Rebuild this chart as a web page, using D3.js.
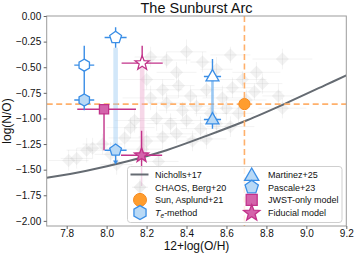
<!DOCTYPE html>
<html>
<head>
<meta charset="utf-8">
<script src="https://cdn.jsdelivr.net/npm/d3@7"></script>
<style>
  body { margin: 0; background: #fff; }
  text { font-family: "Liberation Sans", Arial, sans-serif; fill: #111; }
</style>
</head>
<body>
<div id="chart"></div>
<script>
// CHAOS, Berg+20 cloud (12+log(O/H), log(N/O), errors)
var chaosX = [8.22, 8.30, 8.40, 8.48, 8.62, 8.75, 8.88, 8.55, 8.35, 8.20,
  8.28, 8.36, 8.42, 8.50, 8.58, 8.63, 8.68, 8.78, 8.74, 8.86, 8.88, 8.45, 8.38, 8.52, 8.60, 8.30, 8.22, 8.70, 8.66,
  8.14, 8.12, 8.09, 8.25, 8.32, 8.40, 8.47, 8.55, 8.62, 8.35, 8.28, 8.20, 8.43, 8.18, 7.93, 7.90, 7.85, 7.81, 7.98,
  8.02, 8.26, 8.05, 8.50, 8.18];
var chaosY = [-0.40, -0.43, -0.35, -0.45, -0.38, -0.55, -0.42, -0.52, -0.55, -0.62,
  -0.72, -0.68, -0.78, -0.72, -0.80, -0.70, -0.62, -0.66, -0.74, -0.78, -0.90, -0.88, -0.92, -0.95, -0.90, -0.85, -0.80, -0.82, -0.95,
  -1.02, -1.09, -1.19, -1.00, -1.05, -1.02, -1.10, -1.05, -1.08, -1.15, -1.18, -1.22, -1.22, -1.30, -1.29, -1.31, -1.39, -1.41, -1.25,
  -1.35, -1.42, -1.45, -1.20, -1.57];
var chaosXerr = [0.08, 0.12, 0.10, 0.06, 0.10, 0.12, 0.15, 0.08, 0.10, 0.14,
  0.10, 0.08, 0.12, 0.08, 0.10, 0.10, 0.12, 0.10, 0.14, 0.08, 0.12, 0.10, 0.12, 0.08, 0.10, 0.10, 0.14, 0.10, 0.08,
  0.10, 0.12, 0.08, 0.10, 0.12, 0.10, 0.10, 0.08, 0.12, 0.10, 0.12, 0.10, 0.08, 0.10, 0.08, 0.10, 0.08, 0.10, 0.10,
  0.08, 0.10, 0.08, 0.10, 0.06];
var chaosYerr = [0.10, 0.08, 0.12, 0.10, 0.08, 0.10, 0.10, 0.12, 0.10, 0.10,
  0.10, 0.12, 0.10, 0.08, 0.12, 0.10, 0.08, 0.10, 0.08, 0.12, 0.10, 0.10, 0.08, 0.10, 0.12, 0.10, 0.12, 0.10, 0.10,
  0.12, 0.10, 0.10, 0.12, 0.10, 0.08, 0.12, 0.10, 0.10, 0.10, 0.12, 0.10, 0.10, 0.12, 0.10, 0.12, 0.10, 0.10, 0.10,
  0.12, 0.10, 0.10, 0.10, 0.08];

// Nicholls+17 relation
var nichX = [7.7, 7.9, 8.1, 8.3, 8.5, 8.7, 8.9, 9.1, 9.2];
var nichY = [-1.58, -1.51, -1.42, -1.31, -1.17, -1.02, -0.85, -0.67, -0.58];

// Sun, Asplund+21
var sunX = 8.69, sunY = -0.86;

// T_e-method (hexagons): open, filled
var teX = [7.888, 7.888];
var teY = [-0.48, -0.82];
var teXerr = [0.05, 0.05];
var teYlo = [-0.82, -0.92];
var teYhi = [-0.29, -0.82];

// Pascale+23 (pentagons): open, filled (upper limit)
var pasX = [8.045, 8.045];
var pasY = [-0.21, -1.31];
var pasXerr = [0.055, 0.055];
var pasYlo = [-0.31, -1.43];
var pasYhi = [-0.11, -1.31];

// Martinez+25 (triangles): open, filled
var marX = [8.53, 8.53];
var marY = [-0.59, -1.01];
var marXerr = [0.043, 0.043];
var marYlo = [-0.59, -1.10];
var marYhi = [-0.42, -1.01];

// JWST-only model (square)
var jwX = 7.987, jwY = -0.91;
var jwXlo = 7.853, jwXhi = 8.147;
var jwYlo = -1.31, jwYhi = -0.91;

// Fiducial model (stars): open, filled
var fidX = [8.178, 8.175];
var fidY = [-0.46, -1.36];
var fidXerr = [0.103, 0.103];
var fidYlo = [-0.46, -1.66];
var fidYhi = [-0.29, -1.12];

var xTicks = [7.8, 8.0, 8.2, 8.4, 8.6, 8.8, 9.0, 9.2];
var yTicks = [0, -0.25, -0.5, -0.75, -1.0, -1.25, -1.5, -1.75, -2.0];

var W = 357, H = 255;
var blue = "#3a8ee6", paleBlue = "#b8d9f6", pink = "#c2328a", pinkFill = "#d463ab";
var orange = "#ff9d2e";

var svg = d3.select("#chart").append("svg").attr("width", W).attr("height", H);

var x = d3.scaleLinear().domain([7.7, 9.2]).range([46.7, 346.3]);
var y = d3.scaleLinear().domain([-2.05, 0]).range([226, 16]);

// clip region
svg.append("clipPath").attr("id", "clip").append("rect")
  .attr("x", x(7.7)).attr("y", y(0)).attr("width", x(9.2) - x(7.7)).attr("height", y(-2.05) - y(0));
var plot = svg.append("g").attr("clip-path", "url(#clip)");

// polygon helper (vertex up)
function poly(n, r) {
  var pts = [];
  for (var i = 0; i < n; i++) {
    var a = -Math.PI / 2 + i * 2 * Math.PI / n;
    pts.push([r * Math.cos(a), r * Math.sin(a)]);
  }
  return "M" + pts.map(function(p){ return p[0].toFixed(2) + "," + p[1].toFixed(2); }).join("L") + "Z";
}
function star(r) {
  var pts = [];
  for (var i = 0; i < 10; i++) {
    var a = -Math.PI / 2 + i * Math.PI / 5;
    var rr = i % 2 == 0 ? r : r * 0.42;
    pts.push([rr * Math.cos(a), rr * Math.sin(a)]);
  }
  return "M" + pts.map(function(p){ return p[0].toFixed(2) + "," + p[1].toFixed(2); }).join("L") + "Z";
}
function tri(r) {
  return "M0," + (-r) + "L" + (r * 0.95) + "," + (r * 0.65) + "L" + (-r * 0.95) + "," + (r * 0.65) + "Z";
}
function diamond(r) {
  return "M0," + (-r) + "L" + r + ",0L0," + r + "L" + (-r) + ",0Z";
}

// CHAOS cloud
var chaos = chaosX.map(function(d, i){ return {x: d, y: chaosY[i], xe: chaosXerr[i], ye: chaosYerr[i]}; });
var cg = plot.append("g");
chaos.forEach(function(d){
  cg.append("line").attr("x1", x(d.x - d.xe)).attr("x2", x(d.x + d.xe))
    .attr("y1", y(d.y)).attr("y2", y(d.y))
    .attr("stroke", "#9a9a9a").attr("stroke-opacity", 0.12).attr("stroke-width", 1);
  cg.append("line").attr("x1", x(d.x)).attr("x2", x(d.x))
    .attr("y1", y(d.y - d.ye)).attr("y2", y(d.y + d.ye))
    .attr("stroke", "#9a9a9a").attr("stroke-opacity", 0.12).attr("stroke-width", 1);
  cg.append("path").attr("d", diamond(6.5))
    .attr("transform", "translate(" + x(d.x) + "," + y(d.y) + ")")
    .attr("fill", "#8a8a8a").attr("fill-opacity", 0.11);
});

// Nicholls curve
var nich = nichX.map(function(d, i){ return [d, nichY[i]]; });
plot.append("path")
  .attr("d", d3.line().x(function(d){ return x(d[0]); }).y(function(d){ return y(d[1]); })
    .curve(d3.curveCatmullRom)(nich))
  .attr("fill", "none").attr("stroke", "#656b72").attr("stroke-width", 2);

// solar dashed lines
plot.append("line").attr("x1", x(sunX)).attr("x2", x(sunX)).attr("y1", y(0)).attr("y2", y(-2.05))
  .attr("stroke", "#ffb06b").attr("stroke-width", 1.6).attr("stroke-dasharray", "6,3.5");
plot.append("line").attr("x1", x(7.7)).attr("x2", x(9.2)).attr("y1", y(sunY)).attr("y2", y(sunY))
  .attr("stroke", "#ffb06b").attr("stroke-width", 1.6).attr("stroke-dasharray", "6,3.5");

// shaded bands between open/filled pairs
function band(xc, y1, y2, w, col, op) {
  plot.append("rect").attr("x", x(xc) - w / 2).attr("width", w)
    .attr("y", y(y1)).attr("height", y(y2) - y(y1))
    .attr("fill", col).attr("fill-opacity", op);
}
band(pasX[0], pasYlo[0], pasY[1], 4.6, "#9cc9f2", 0.45);
band(fidX[0], fidY[0], fidY[1], 4.6, "#eaa6cd", 0.45);
band(marX[0], marY[0], marY[1], 2.6, "#6fb0ee", 0.7);

function errbar(xc, yc, xlo, xhi, ylo, yhi, col) {
  plot.append("line").attr("x1", x(xlo)).attr("x2", x(xhi)).attr("y1", y(yc)).attr("y2", y(yc))
    .attr("stroke", col).attr("stroke-width", 1.4);
  if (ylo != yhi)
    plot.append("line").attr("x1", x(xc)).attr("x2", x(xc)).attr("y1", y(ylo)).attr("y2", y(yhi))
      .attr("stroke", col).attr("stroke-width", 1.4);
}
function marker(path, xc, yc, fill, stroke) {
  plot.append("path").attr("d", path)
    .attr("transform", "translate(" + x(xc) + "," + y(yc) + ")")
    .attr("fill", fill).attr("stroke", stroke).attr("stroke-width", 1.3);
}

// error bars
errbar(jwX, jwY, jwXlo, jwXhi, jwYlo, jwYhi, pink);
teX.forEach(function(d, i){ errbar(d, teY[i], d - teXerr[i], d + teXerr[i], teYlo[i], teYhi[i], blue); });
pasX.forEach(function(d, i){ errbar(d, pasY[i], d - pasXerr[i], d + pasXerr[i], pasYlo[i], pasYhi[i], blue); });
marX.forEach(function(d, i){ errbar(d, marY[i], d - marXerr[i], d + marXerr[i], marYlo[i], marYhi[i], blue); });
fidX.forEach(function(d, i){ errbar(d, fidY[i], d - fidXerr[i], d + fidXerr[i], fidYlo[i], fidYhi[i], pink); });

// upper-limit arrowhead on filled pentagon
plot.append("path")
  .attr("d", "M-2.6,0L2.6,0L0,4Z")
  .attr("transform", "translate(" + x(pasX[1]) + "," + (y(pasYlo[1]) - 2) + ")")
  .attr("fill", blue);

// markers
marker(poly(6, 6), teX[0], teY[0], "#fff", blue);
marker(poly(6, 6), teX[1], teY[1], paleBlue, blue);
marker(poly(5, 6.2), pasX[0], pasY[0], "#fff", blue);
marker(poly(5, 6.2), pasX[1], pasY[1], paleBlue, blue);
marker(tri(6.8), marX[0], marY[0], "#fff", blue);
marker(tri(6.8), marX[1], marY[1], paleBlue, blue);
marker("M-4.6,-4.6H4.6V4.6H-4.6Z", jwX, jwY, pinkFill, pink);
marker(star(7.5), fidX[0], fidY[0], "#fff", pink);
marker(star(7.5), fidX[1], fidY[1], pinkFill, pink);
svg.append("circle").attr("cx", x(sunX)).attr("cy", y(sunY)).attr("r", 5.6)
  .attr("fill", orange).attr("stroke", "#f58a1f").attr("stroke-width", 1);

// frame
svg.append("rect").attr("x", x(7.7)).attr("y", y(0)).attr("width", x(9.2) - x(7.7)).attr("height", y(-2.05) - y(0))
  .attr("fill", "none").attr("stroke", "#9c9c9c").attr("stroke-width", 1);

// axes
var xAxis = svg.append("g").attr("transform", "translate(0," + y(-2.05) + ")")
  .call(d3.axisBottom(x).tickValues(xTicks).tickSize(3).tickPadding(0.5).tickFormat(d3.format(".1f")));
var yAxis = svg.append("g").attr("transform", "translate(" + x(7.7) + ",0)")
  .call(d3.axisLeft(y).tickValues(yTicks).tickSize(3).tickPadding(2.5).tickFormat(function(d){ return d3.format(".2f")(d).replace("-", "\u2212"); }));
[xAxis, yAxis].forEach(function(a){
  a.select(".domain").remove();
  a.selectAll(".tick line").attr("stroke", "#666");
  a.selectAll(".tick text").attr("font-size", 10).attr("fill", "#111")
    .style("font-family", "'Liberation Sans', Arial, sans-serif");
});

// labels
svg.append("text").attr("x", (x(7.7) + x(9.2)) / 2).attr("y", 13).attr("text-anchor", "middle")
  .attr("font-size", 14.5).text("The Sunburst Arc");
svg.append("text").attr("x", (x(7.7) + x(9.2)) / 2).attr("y", 250).attr("text-anchor", "middle")
  .attr("font-size", 12).text("12+log(O/H)");
svg.append("text").attr("transform", "translate(11," + ((y(0) + y(-2.05)) / 2) + ") rotate(-90)")
  .attr("text-anchor", "middle").attr("font-size", 12).text("log(N/O)");

// legend
var lg = svg.append("g");
lg.append("rect").attr("x", 127.5).attr("y", 166.5).attr("width", 214.5).attr("height", 56).attr("rx", 3)
  .attr("fill", "#fff").attr("fill-opacity", 0.8).attr("stroke", "#cfcfcf").attr("stroke-width", 1);
var rows = [174.5, 187.2, 199.9, 212.6];
var c1m = 140, c1t = 155, c2m = 251.7, c2t = 268;
lg.append("line").attr("x1", 130.5).attr("x2", 148.5).attr("y1", rows[0]).attr("y2", rows[0])
  .attr("stroke", "#656b72").attr("stroke-width", 2);
lg.append("path").attr("d", diamond(6.5)).attr("transform", "translate(" + c1m + "," + rows[1] + ")")
  .attr("fill", "#8a8a8a").attr("fill-opacity", 0.14);
lg.append("line").attr("x1", c1m - 8).attr("x2", c1m + 8).attr("y1", rows[1]).attr("y2", rows[1])
  .attr("stroke", "#9a9a9a").attr("stroke-opacity", 0.15);
lg.append("line").attr("x1", c1m).attr("x2", c1m).attr("y1", rows[1] - 8).attr("y2", rows[1] + 8)
  .attr("stroke", "#9a9a9a").attr("stroke-opacity", 0.15);
lg.append("circle").attr("cx", c1m).attr("cy", rows[2]).attr("r", 6.5)
  .attr("fill", orange).attr("stroke", "#f58a1f").attr("stroke-width", 1);
lg.append("path").attr("d", poly(6, 7)).attr("transform", "translate(" + c1m + "," + rows[3] + ")")
  .attr("fill", paleBlue).attr("stroke", blue).attr("stroke-width", 1.3);
lg.append("path").attr("d", tri(7.5)).attr("transform", "translate(" + c2m + "," + (rows[0] + 1) + ")")
  .attr("fill", paleBlue).attr("stroke", blue).attr("stroke-width", 1.3);
lg.append("path").attr("d", poly(5, 7)).attr("transform", "translate(" + c2m + "," + rows[1] + ")")
  .attr("fill", paleBlue).attr("stroke", blue).attr("stroke-width", 1.3);
lg.append("path").attr("d", "M-5.5,-5.5H5.5V5.5H-5.5Z").attr("transform", "translate(" + c2m + "," + rows[2] + ")")
  .attr("fill", pinkFill).attr("stroke", pink).attr("stroke-width", 1.3);
lg.append("path").attr("d", star(8.5)).attr("transform", "translate(" + c2m + "," + (rows[3] + 0.5) + ")")
  .attr("fill", pinkFill).attr("stroke", pink).attr("stroke-width", 1.3);

var labels1 = ["Nicholls+17", "CHAOS, Berg+20", "Sun, Asplund+21"];
var labels2 = ["Martinez+25", "Pascale+23", "JWST-only model", "Fiducial model"];
labels1.forEach(function(t, i){
  lg.append("text").attr("x", c1t).attr("y", rows[i] + 3.3).attr("font-size", 9).text(t);
});
var te = lg.append("text").attr("x", c1t).attr("y", rows[3] + 3.3).attr("font-size", 9);
te.append("tspan").attr("font-style", "italic").text("T");
te.append("tspan").attr("font-style", "italic").attr("font-size", 6.5).attr("dy", 2).text("e");
te.append("tspan").attr("dy", -2).text("-method");
labels2.forEach(function(t, i){
  lg.append("text").attr("x", c2t).attr("y", rows[i] + 3.3).attr("font-size", 9).text(t);
});
</script>
</body>
</html>
